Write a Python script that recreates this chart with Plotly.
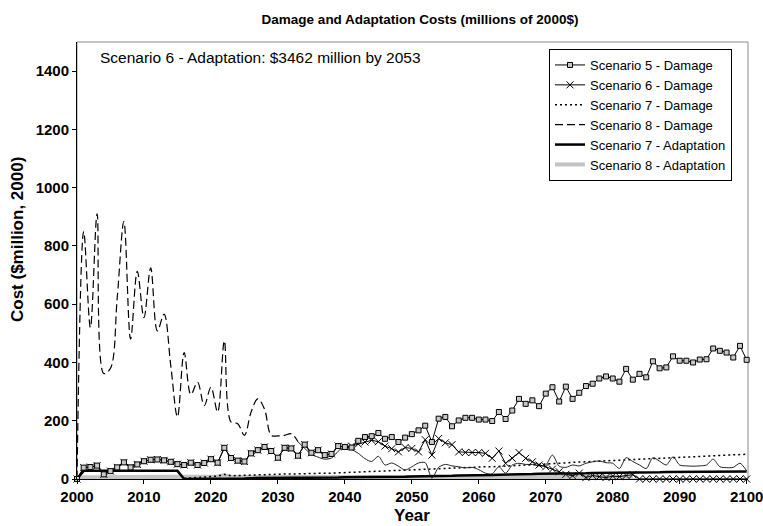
import plotly.graph_objects as go

years = list(range(2000, 2101))

# Scenarios 5 and 6 share the same damage path until 2040
shared_damage_2000_2040 = [
    0, 39, 41, 46, 16, 27, 40, 57, 40, 50,
    61, 66, 67, 64, 59, 51, 48, 56, 48, 55,
    68, 56, 107, 72, 63, 60, 88, 99, 110, 96,
    73, 107, 105, 80, 118, 90, 99, 82, 86, 113,
    110,
]

scen5_damage_2041_2100 = [
    108, 131, 144, 147, 158, 138, 144, 127, 142, 154,
    167, 183, 127, 207, 213, 181, 201, 210, 210, 204,
    204, 199, 230, 206, 235, 275, 258, 270, 250, 293,
    315, 266, 317, 275, 296, 319, 327, 345, 352, 345,
    334, 378, 341, 361, 349, 404, 380, 383, 421, 406,
    406, 400, 410, 411, 448, 440, 434, 417, 457, 409,
]

scen6_damage_2041_2100 = [
    113, 120, 127, 133, 128, 113, 104, 93, 108, 105,
    93, 135, 82, 139, 124, 118, 93, 91, 91, 91,
    88, 71, 96, 54, 71, 91, 71, 59, 48, 42,
    34, 25, 16, 11, 20, 5, 12, 8, 5, 10,
    8, 12, 15, 0, 0, 0, 0, 0, 0, 0,
    0, 0, 0, 0, 0, 0, 0, 0, 0, 0,
]

scen5_damage = shared_damage_2000_2040 + scen5_damage_2041_2100
scen6_damage = shared_damage_2000_2040 + scen6_damage_2041_2100

# Scenario 8 damage: 2000-2033 (drawn dashed) and 2033-2100 (thin trace)
scen8_years_early = list(range(2000, 2034))
scen8_damage_early = [
    0, 850, 520, 910, 362, 380, 620, 884, 480, 713,
    554, 725, 508, 566, 390, 213, 434, 290, 332, 252,
    315, 230, 474, 196, 190, 150, 230, 275, 240, 150,
    148, 150, 155, 128,
]
scen8_years_late = list(range(2033, 2101))
scen8_damage_late = [
    128, 105, 85, 75, 68, 72, 95, 112, 102, 88,
    70, 60, 78, 48, 55, 44, 31, 42, 55, 56,
    3, 40, 50, 45, 42, 38, 40, 32, 20, 18,
    42, 20, 48, 54, 50, 50, 45, 48, 82, 44,
    40, 48, 45, 54, 59, 62, 56, 54, 36, 73,
    60, 48, 36, 73, 61, 48, 76, 48, 45, 44,
    45, 48, 68, 42, 39, 40, 54, 28,
]

scen7_years = list(range(2016, 2101))
scen7_damage = [
    2, 4, 5, 7, 8, 10, 16, 11, 12, 13,
    14, 14, 15, 16, 16, 17, 17, 18, 18, 19,
    19, 20, 20, 21, 22, 22, 23, 24, 25, 26,
    27, 28, 29, 30, 31, 32, 34, 36, 37, 38,
    38, 39, 40, 40, 41, 42, 42, 43, 44, 45,
    46, 47, 48, 50, 52, 53, 54, 55, 57, 58,
    60, 61, 62, 63, 64, 65, 66, 67, 68, 69,
    70, 71, 72, 73, 74, 75, 76, 77, 78, 80,
    80, 81, 82, 83, 85,
]

scen7_adapt = [
    0, 28, 28, 28, 28, 28, 28, 28, 28, 28,
    28, 28, 28, 28, 28, 28, 0, 0, 0, 1,
    1, 1, 2, 2, 2, 2, 3, 3, 3, 3,
    3, 4, 4, 4, 4, 5, 5, 5, 5, 5,
    6, 6, 6, 7, 7, 7, 7, 8, 8, 8,
    9, 9, 9, 10, 10, 11, 11, 12, 12, 13,
    13, 14, 14, 15, 15, 16, 16, 17, 17, 18,
    18, 19, 19, 19, 20, 20, 20, 21, 21, 21,
    22, 22, 22, 22, 23, 23, 23, 23, 24, 24,
    24, 24, 25, 25, 25, 25, 25, 26, 26, 26,
    26,
]

scen8_years_adapt = list(range(2000, 2084))
scen8_adapt = [
    0, 6, 6, 6, 6, 6, 6, 6, 6, 6,
    6, 6, 6, 6, 6, 6, 6, 6, 7, 7,
    8, 9, 13, 8, 7, 7, 7, 7, 7, 7,
    7, 7, 7, 7, 7, 7, 7, 7, 7, 7,
    7, 7, 7, 7, 7, 7, 7, 7, 7, 7,
    7, 7, 7, 7, 7, 7, 7, 7, 7, 7,
    7, 7, 7, 7, 7, 7, 7, 7, 7, 7,
    7, 7, 7, 7, 7, 7, 7, 7, 7, 7,
    7, 7, 7, 7,
]

x_ticks = list(range(2000, 2101, 10))
y_ticks = list(range(0, 1401, 200))

FONT = "Liberation Sans, Arial, sans-serif"

fig = go.Figure()

fig.add_trace(go.Scatter(
    x=scen8_years_adapt, y=scen8_adapt, name="Scenario 8 - Adaptation",
    mode="lines", line=dict(color="#c4c4c4", width=4), legendrank=6,
))
fig.add_trace(go.Scatter(
    x=years, y=scen7_adapt, name="Scenario 7 - Adaptation",
    mode="lines", line=dict(color="black", width=2.5), legendrank=5,
))
fig.add_trace(go.Scatter(
    x=scen7_years, y=scen7_damage, name="Scenario 7 - Damage",
    mode="lines", line=dict(color="black", width=1.5, dash="2px,3px"), legendrank=3,
))
fig.add_trace(go.Scatter(
    x=scen8_years_late, y=scen8_damage_late, name="Scenario 8 - Damage",
    mode="lines", line=dict(color="#222222", width=1, shape="spline", smoothing=0.8),
    showlegend=False,
))
fig.add_trace(go.Scatter(
    x=scen8_years_early, y=scen8_damage_early, name="Scenario 8 - Damage",
    mode="lines", line=dict(color="black", width=1.2, dash="8px,4px", shape="spline", smoothing=1.0),
    legendrank=4,
))
fig.add_trace(go.Scatter(
    x=years, y=scen6_damage, name="Scenario 6 - Damage",
    mode="lines+markers", line=dict(color="black", width=1),
    marker=dict(symbol="x-thin-open", size=7, line=dict(color="black", width=1)),
    cliponaxis=False, legendrank=2,
))
fig.add_trace(go.Scatter(
    x=years, y=scen5_damage, name="Scenario 5 - Damage",
    mode="lines+markers", line=dict(color="black", width=1),
    marker=dict(symbol="square", size=5, color="#c8c8c8", line=dict(color="black", width=1)),
    cliponaxis=False, legendrank=1,
))

W, H = 763, 526
L, R, T, B = 77, 15, 42, 47
pw, ph = W - L - R, H - T - B

def px_to_paper(xp, yp):
    return (xp - L) / pw, (H - B - yp) / ph

ax, ay = px_to_paper(98, 57)
fig.add_annotation(
    x=ax, y=ay, xref="paper", yref="paper", xanchor="left", yanchor="middle",
    text="Scenario 6 - Adaptation: $3462 million by 2053", showarrow=False,
    font=dict(family=FONT, size=15.5, color="black"),
)
xt, yt = px_to_paper(412, 515)
fig.add_annotation(
    x=xt, y=yt, xref="paper", yref="paper", xanchor="center", yanchor="middle",
    text="<b>Year</b>", showarrow=False, font=dict(family=FONT, size=17, color="black"),
)
xc, yc = px_to_paper(17, 240)
fig.add_annotation(
    x=xc, y=yc, xref="paper", yref="paper", xanchor="center", yanchor="middle",
    text="<b>Cost ($million, 2000)</b>", textangle=-90, showarrow=False,
    font=dict(family=FONT, size=17, color="black"),
)

# plot-area frame
fig.add_shape(type="rect", xref="paper", yref="paper", x0=0, y0=0, x1=1, y1=1,
              line=dict(color="#8a8a8a", width=1), layer="below")

lx, ly = px_to_paper(549, 49)
fig.update_layout(
    width=W, height=H,
    margin=dict(l=L, r=R, t=T, b=B, autoexpand=False),
    paper_bgcolor="white", plot_bgcolor="white",
    font=dict(family=FONT, color="black"),
    title=dict(
        text="<b>Damage and Adaptation Costs (millions of 2000$)</b>",
        x=420 / W, xanchor="center", y=1 - 19 / H, yanchor="middle",
        font=dict(family=FONT, size=13.5, color="black"),
    ),
    showlegend=True,
    legend=dict(
        x=lx, y=ly, xanchor="left", yanchor="top",
        bordercolor="black", borderwidth=1, bgcolor="white",
        font=dict(family=FONT, size=13, color="black"),
        tracegroupgap=0, itemwidth=30,
    ),
    xaxis=dict(
        range=[2000, 2100.2], tickvals=x_ticks, ticktext=[str(v) for v in x_ticks],
        showgrid=False, zeroline=False, showline=True, linecolor="black", linewidth=1,
        ticks="outside", ticklen=4, tickcolor="black", ticklabeloverflow="allow",
        tickfont=dict(family=FONT, size=15, color="black", weight="bold"),
    ),
    yaxis=dict(
        range=[0, 1500], tickvals=y_ticks, ticktext=[str(v) for v in y_ticks],
        showgrid=False, zeroline=False, showline=True, linecolor="black", linewidth=1,
        ticks="outside", ticklen=4, tickcolor="black",
        tickfont=dict(family=FONT, size=15, color="black", weight="bold"),
    ),
)

fig.write_html("out.html")
